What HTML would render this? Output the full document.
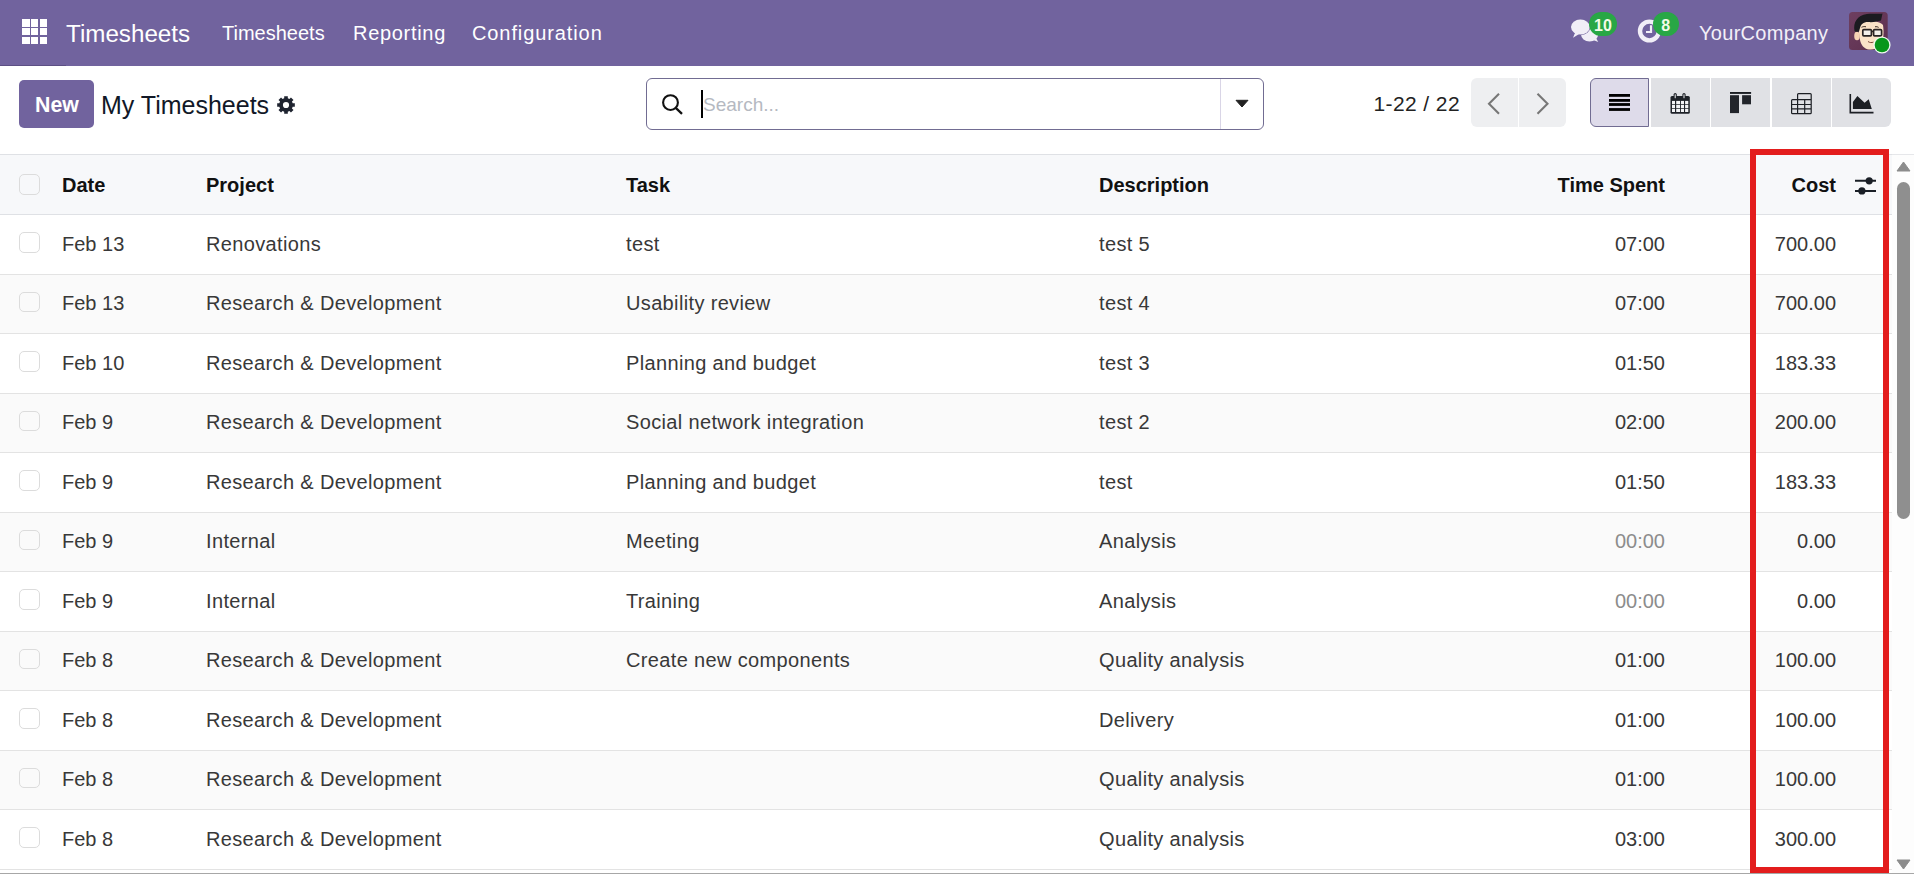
<!DOCTYPE html>
<html><head><meta charset="utf-8">
<style>
*{box-sizing:border-box;margin:0;padding:0}
html,body{width:1914px;height:874px;overflow:hidden;background:#fff;font-family:"Liberation Sans",sans-serif;color:#333}
.abs{position:absolute}
svg{position:absolute;overflow:visible}
.nav{position:absolute;left:0;top:0;width:1914px;height:66px;background:#71639e}
.nav .t{position:absolute;color:#fff;white-space:nowrap;line-height:1}
.txt{position:absolute;white-space:nowrap;line-height:1}
.grid span{position:absolute;width:7.5px;height:7.5px;background:#fff}
.badge{position:absolute;background:#28a745;color:#f4fbe8;font-weight:700;font-size:16px;line-height:27.5px;text-align:center;border-radius:12px;height:24px}
.thead{position:absolute;z-index:2;left:0;width:1892px;height:61px;background:#f7f8fa;border-top:1px solid #dfe1e5;border-bottom:1px solid #dfe1e5}
.row{position:absolute;left:0;width:1892px;height:59.5px;border-bottom:1px solid #e3e3e3}
.row.odd{background:#fff}
.row.even{background:#fafafa}
.cb{position:absolute;left:19px;width:21px;height:20.6px;border:1px solid #dcdcdc;border-radius:5px;background:transparent}
.cell{position:absolute;font-size:20px;line-height:1;white-space:nowrap;color:#383838}
.cell.muted{color:#8c8c8c}
.hcell{position:absolute;font-size:20px;line-height:1;white-space:nowrap;color:#111;font-weight:700}
.vbtn{position:absolute;top:78px;height:48.5px;background:#e0e1e5}
.pbtn{position:absolute;top:78px;height:48.5px;background:#eeeff1}

.hz{z-index:3}
.ls{letter-spacing:.35px}

</style></head>
<body>
<div class="nav">
  <div class="abs" style="left:0;top:64.5px;width:66px;height:1.5px;background:#5c4f84"></div>
  <div class="grid abs" style="left:22px;top:19px;width:25px;height:25px">
    <span style="left:0;top:0"></span><span style="left:8.8px;top:0"></span><span style="left:17.6px;top:0"></span>
    <span style="left:0;top:8.8px"></span><span style="left:8.8px;top:8.8px"></span><span style="left:17.6px;top:8.8px"></span>
    <span style="left:0;top:17.6px"></span><span style="left:8.8px;top:17.6px"></span><span style="left:17.6px;top:17.6px"></span>
  </div>
  <div class="t" style="left:66px;top:22.3px;font-size:24.2px">Timesheets</div>
  <div class="t" style="left:222px;top:23px;font-size:20px">Timesheets</div>
  <div class="t" style="left:353px;top:23px;font-size:20px;letter-spacing:.7px">Reporting</div>
  <div class="t" style="left:472px;top:23px;font-size:20px;letter-spacing:.9px">Configuration</div>
  <!-- chat icon -->
  <svg style="left:1570px;top:18px" width="30" height="26" viewBox="0 0 30 26">
    <ellipse cx="19.600" cy="16.300" rx="8.600" ry="7.300" fill="#f1eef7"/>
    <path d="M22 21.500 L28.200 24 L25 18z" fill="#f1eef7"/>
    <ellipse cx="10.400" cy="9" rx="9.400" ry="7.400" fill="#f1eef7" stroke="#71639e" stroke-width="1.300"/>
    <path d="M5.200 14.500 L3 19.800 L9.500 15.800z" fill="#f1eef7"/>
    <ellipse cx="10.400" cy="9" rx="9.400" ry="7.400" fill="#f1eef7"/>
  </svg>
  <div class="badge" style="left:1589px;top:12px;width:28px">10</div>
  <!-- clock icon -->
  <svg style="left:1636px;top:18px" width="26" height="26" viewBox="0 0 26 26">
    <circle cx="13.4" cy="13" r="9.4" fill="none" stroke="#f1eef7" stroke-width="4.4"/>
    <path d="M15 7.3v6.7h-5" fill="none" stroke="#f1eef7" stroke-width="2.2"/>
  </svg>
  <div class="badge" style="left:1653px;top:12px;width:25.5px">8</div>
  <div class="t" style="left:1699px;top:23px;font-size:20px;letter-spacing:.3px;color:#f3f0f8">YourCompany</div>
  <!-- avatar -->
  <svg style="left:1849px;top:12px" width="39" height="39" viewBox="0 0 39 39">
    <defs><clipPath id="av"><rect x="0" y="0" width="38.7" height="38" rx="3.5"/></clipPath>
    <linearGradient id="avg" x1="0" y1="0" x2="1" y2="1"><stop offset="0" stop-color="#6e3f60"/><stop offset="1" stop-color="#5c2f4e"/></linearGradient></defs>
    <g clip-path="url(#av)">
      <rect x="0" y="0" width="39" height="39" fill="url(#avg)"/>
      <path d="M10 12 C12 8 30 8 34 13 C35 20 35 28 31 33 C28 37 24 38 20 37.5 C15 37 12 33 11 28 C10 23 9.500 17 10 12z" fill="#fbe3c8"/>
      <ellipse cx="8" cy="24" rx="2.800" ry="4.300" fill="#f6d2b4"/>
      <path d="M5.500 19 C4 11 8 3 18 2 C25 1.500 31 2 33.500 1.500 C33 4 32.500 6 32 8.500 C29 9.500 24 10.500 19 10 C14 10 12 12.500 11 16 L10 19.500 C8 20 6.500 20 5.500 19z" fill="#1b1b20"/>
      <path d="M12.500 15.300 c1.500-.8 3-.9 4.500-.5M26 14.800c1.300-.3 2.600 0 3.600.6" stroke="#3a2a22" stroke-width="1" fill="none"/>
      <rect x="13.800" y="17.600" width="8.600" height="6.200" rx="1" fill="#f4f0ea" stroke="#2a2424" stroke-width="1.700"/>
      <rect x="24.600" y="17.600" width="8" height="6.200" rx="1" fill="#f4f0ea" stroke="#2a2424" stroke-width="1.700"/>
      <path d="M22.400 19.500h2.200" stroke="#2a2424" stroke-width="1.500"/>
      <path d="M19 29.500c1.800 1.300 3.600 1.300 5.500.6" stroke="#7a4a3a" stroke-width="1" fill="none"/>
    </g>
    <circle cx="33" cy="33" r="8.600" fill="#f0fbf0"/>
    <circle cx="33" cy="33" r="7.300" fill="#07961a"/>
  </svg>
</div>

<div class="abs" style="left:19px;top:80px;width:75px;height:48px;background:#71639e;border-radius:5px"></div>
<div class="txt" style="left:35px;top:94.5px;font-size:21.3px;font-weight:700;color:#fff">New</div>
<div class="txt" style="left:101px;top:93px;font-size:25px;color:#111827">My Timesheets</div>
<!-- gear -->
<svg style="left:277px;top:96.4px" width="18" height="18" viewBox="0 0 18 18">
  <path fill="#1f2430" fill-rule="evenodd" d="M7.20 2.34 L7.20 0.18 L10.80 0.18 L10.80 2.34 L12.44 3.02 L13.96 1.49 L16.51 4.04 L14.98 5.56 L15.66 7.20 L17.82 7.20 L17.82 10.80 L15.66 10.80 L14.98 12.44 L16.51 13.96 L13.96 16.51 L12.44 14.98 L10.80 15.66 L10.80 17.82 L7.20 17.82 L7.20 15.66 L5.56 14.98 L4.04 16.51 L1.49 13.96 L3.02 12.44 L2.34 10.80 L0.18 10.80 L0.18 7.20 L2.34 7.20 L3.02 5.56 L1.49 4.04 L4.04 1.49 L5.56 3.02Z M9 5.9 a3.1 3.1 0 1 0 0 6.2 a3.1 3.1 0 1 0 0-6.2z"/>
</svg>
<!-- search -->
<div class="abs" style="left:646px;top:78px;width:618px;height:52px;border:1.5px solid #716c92;border-radius:6px;background:#fff"></div>
<div class="abs" style="left:1220px;top:79px;width:1px;height:50px;background:#d9d5e6"></div>
<svg style="left:661px;top:93px" width="24" height="24" viewBox="0 0 24 24">
  <circle cx="9.5" cy="9.6" r="7.4" fill="none" stroke="#111" stroke-width="2.1"/>
  <path d="M15 15.2l6 5.6" stroke="#111" stroke-width="2.3"/>
</svg>
<div class="abs" style="left:701px;top:90px;width:2px;height:28px;background:#000"></div>
<div class="txt" style="left:703px;top:95px;font-size:19px;color:#b5b9c1">Search...</div>
<svg style="left:1235px;top:99px" width="14" height="9" viewBox="0 0 14 9">
  <path d="M1 1.300h12L7 8z" fill="#222" stroke="#222" stroke-width="1" stroke-linejoin="round"/>
</svg>
<!-- pager -->
<div class="txt" style="left:1373.5px;top:93px;font-size:21px;letter-spacing:.4px;color:#222">1-22 / 22</div>
<div class="pbtn" style="left:1471px;width:47px;border-radius:6px 0 0 6px"></div>
<div class="pbtn" style="left:1519px;width:46.5px;border-radius:0 6px 6px 0"></div>
<svg style="left:1486px;top:92px" width="16" height="24" viewBox="0 0 16 24">
  <path d="M13 1.800L3 11.800l10 10" fill="none" stroke="#777" stroke-width="2.1"/>
</svg>
<svg style="left:1535px;top:92px" width="16" height="24" viewBox="0 0 16 24">
  <path d="M2.500 1.800l10 10-10 10" fill="none" stroke="#777" stroke-width="2.1"/>
</svg>
<!-- view switcher -->
<div class="vbtn" style="left:1590px;width:59px;background:#dedbea;border:1.3px solid #716c92;border-radius:6px 0 0 6px"></div>
<div class="vbtn" style="left:1651px;width:59px"></div>
<div class="vbtn" style="left:1711px;width:59px"></div>
<div class="vbtn" style="left:1772px;width:59px"></div>
<div class="vbtn" style="left:1832px;width:59px;border-radius:0 6px 6px 0"></div>
<!-- list icon -->
<svg style="left:1609px;top:94px" width="21" height="17" viewBox="0 0 21 17">
  <rect x="0" y="0" width="21" height="2.8" fill="#000"/>
  <rect x="0" y="5" width="21" height="2.8" fill="#000"/>
  <rect x="0" y="9.1" width="21" height="2.8" fill="#000"/>
  <rect x="0" y="14.1" width="21" height="2.8" fill="#000"/>
</svg>
<!-- calendar icon -->
<svg style="left:1670px;top:93px" width="20" height="21" viewBox="0 0 20 21">
  <rect x="0.5" y="3" width="19.300" height="17.700" rx="1.500" fill="#1e2228"/>
  <rect x="2" y="7.900" width="3" height="3.200" fill="#f3f4f6"/><rect x="6.200" y="7.900" width="3.900" height="3.200" fill="#f3f4f6"/><rect x="11" y="7.900" width="3" height="3.200" fill="#f3f4f6"/><rect x="15.100" y="7.900" width="3.200" height="3.200" fill="#f3f4f6"/>
  <rect x="2" y="11.800" width="3" height="3.300" fill="#f3f4f6"/><rect x="6.200" y="11.800" width="3.900" height="3.300" fill="#f3f4f6"/><rect x="11" y="11.800" width="3" height="3.300" fill="#f3f4f6"/><rect x="15.100" y="11.800" width="3.200" height="3.300" fill="#f3f4f6"/>
  <rect x="2" y="15.800" width="3" height="3.200" fill="#f3f4f6"/><rect x="6.200" y="15.800" width="3.900" height="3.200" fill="#f3f4f6"/><rect x="11" y="15.800" width="3" height="3.200" fill="#f3f4f6"/><rect x="15.100" y="15.800" width="3.200" height="3.200" fill="#f3f4f6"/>
  <rect x="3.600" y="0" width="3.200" height="6" rx="1.600" fill="#1e2228"/>
  <rect x="12.400" y="0" width="3.200" height="6" rx="1.600" fill="#1e2228"/>
  <rect x="4.700" y="1.200" width="1" height="4" rx=".5" fill="#f3f4f6"/>
  <rect x="13.500" y="1.200" width="1" height="4" rx=".5" fill="#f3f4f6"/>
</svg>
<!-- kanban icon -->
<svg style="left:1730px;top:92px" width="22" height="22" viewBox="0 0 22 22">
  <rect x="0" y="0" width="21.100" height="1.900" fill="#1a1d22"/>
  <rect x="0" y="3.200" width="9" height="17.900" fill="#22252b"/>
  <rect x="12.100" y="3.200" width="8.900" height="9.100" fill="#22252b"/>
</svg>
<!-- pivot icon -->
<svg style="left:1791px;top:93px" width="21" height="21" viewBox="0 0 21 21">
  <path d="M6.600 6.600V1.500q0-.9.9-.9h11.800q.9 0 .9.9v18.200q0 .9-.9.9H1.500q-.9 0-.9-.9V7.500q0-.9.9-.9zM.6 11.500h19.600M.6 15.800h19.600M6.600 6.600V20.600M13.700 6.600V20.600M6.600 6.600H20.200" fill="none" stroke="#1c1f24" stroke-width="1.200"/>
</svg>
<!-- graph icon -->
<svg style="left:1849px;top:93px" width="25" height="21" viewBox="0 0 25 21">
  <path d="M1.300 1v18.600H24.500" fill="none" stroke="#1c1f24" stroke-width="1.600"/>
  <path d="M3.900 15.900V9.100L8.400 3.100l7.200 6.700 4.100-3.500 3.100 9.600z" fill="#1c1f24"/>
</svg>

<div class="thead" style="top:154px"></div>
<div class="cb hz" style="top:174px"></div>
<div class="hcell hz" style="left:62px;top:175.2px">Date</div>
<div class="hcell hz" style="left:206px;top:175.2px">Project</div>
<div class="hcell hz" style="left:626px;top:175.2px">Task</div>
<div class="hcell hz" style="left:1099px;top:175.2px">Description</div>
<div class="hcell hz r" style="right:249px;top:175.2px">Time Spent</div>
<div class="hcell hz r" style="right:78px;top:175.2px">Cost</div>
<div class="row odd" style="top:215.00px"></div>
<div class="cb" style="top:232.20px"></div>
<div class="cell" style="left:62px;top:233.50px">Feb 13</div>
<div class="cell ls" style="left:206px;top:233.50px">Renovations</div>
<div class="cell ls" style="left:626px;top:233.50px">test</div>
<div class="cell ls" style="left:1099px;top:233.50px">test 5</div>
<div class="cell r" style="right:249px;top:233.50px">07:00</div>
<div class="cell r" style="right:78px;top:233.50px">700.00</div>
<div class="row even" style="top:274.50px"></div>
<div class="cb" style="top:291.70px"></div>
<div class="cell" style="left:62px;top:293.00px">Feb 13</div>
<div class="cell ls" style="left:206px;top:293.00px">Research &amp; Development</div>
<div class="cell ls" style="left:626px;top:293.00px">Usability review</div>
<div class="cell ls" style="left:1099px;top:293.00px">test 4</div>
<div class="cell r" style="right:249px;top:293.00px">07:00</div>
<div class="cell r" style="right:78px;top:293.00px">700.00</div>
<div class="row odd" style="top:334.00px"></div>
<div class="cb" style="top:351.20px"></div>
<div class="cell" style="left:62px;top:352.50px">Feb 10</div>
<div class="cell ls" style="left:206px;top:352.50px">Research &amp; Development</div>
<div class="cell ls" style="left:626px;top:352.50px">Planning and budget</div>
<div class="cell ls" style="left:1099px;top:352.50px">test 3</div>
<div class="cell r" style="right:249px;top:352.50px">01:50</div>
<div class="cell r" style="right:78px;top:352.50px">183.33</div>
<div class="row even" style="top:393.50px"></div>
<div class="cb" style="top:410.70px"></div>
<div class="cell" style="left:62px;top:412.00px">Feb 9</div>
<div class="cell ls" style="left:206px;top:412.00px">Research &amp; Development</div>
<div class="cell ls" style="left:626px;top:412.00px">Social network integration</div>
<div class="cell ls" style="left:1099px;top:412.00px">test 2</div>
<div class="cell r" style="right:249px;top:412.00px">02:00</div>
<div class="cell r" style="right:78px;top:412.00px">200.00</div>
<div class="row odd" style="top:453.00px"></div>
<div class="cb" style="top:470.20px"></div>
<div class="cell" style="left:62px;top:471.50px">Feb 9</div>
<div class="cell ls" style="left:206px;top:471.50px">Research &amp; Development</div>
<div class="cell ls" style="left:626px;top:471.50px">Planning and budget</div>
<div class="cell ls" style="left:1099px;top:471.50px">test</div>
<div class="cell r" style="right:249px;top:471.50px">01:50</div>
<div class="cell r" style="right:78px;top:471.50px">183.33</div>
<div class="row even" style="top:512.50px"></div>
<div class="cb" style="top:529.70px"></div>
<div class="cell" style="left:62px;top:531.00px">Feb 9</div>
<div class="cell ls" style="left:206px;top:531.00px">Internal</div>
<div class="cell ls" style="left:626px;top:531.00px">Meeting</div>
<div class="cell ls" style="left:1099px;top:531.00px">Analysis</div>
<div class="cell r muted" style="right:249px;top:531.00px">00:00</div>
<div class="cell r" style="right:78px;top:531.00px">0.00</div>
<div class="row odd" style="top:572.00px"></div>
<div class="cb" style="top:589.20px"></div>
<div class="cell" style="left:62px;top:590.50px">Feb 9</div>
<div class="cell ls" style="left:206px;top:590.50px">Internal</div>
<div class="cell ls" style="left:626px;top:590.50px">Training</div>
<div class="cell ls" style="left:1099px;top:590.50px">Analysis</div>
<div class="cell r muted" style="right:249px;top:590.50px">00:00</div>
<div class="cell r" style="right:78px;top:590.50px">0.00</div>
<div class="row even" style="top:631.50px"></div>
<div class="cb" style="top:648.70px"></div>
<div class="cell" style="left:62px;top:650.00px">Feb 8</div>
<div class="cell ls" style="left:206px;top:650.00px">Research &amp; Development</div>
<div class="cell ls" style="left:626px;top:650.00px">Create new components</div>
<div class="cell ls" style="left:1099px;top:650.00px">Quality analysis</div>
<div class="cell r" style="right:249px;top:650.00px">01:00</div>
<div class="cell r" style="right:78px;top:650.00px">100.00</div>
<div class="row odd" style="top:691.00px"></div>
<div class="cb" style="top:708.20px"></div>
<div class="cell" style="left:62px;top:709.50px">Feb 8</div>
<div class="cell ls" style="left:206px;top:709.50px">Research &amp; Development</div>
<div class="cell ls" style="left:1099px;top:709.50px">Delivery</div>
<div class="cell r" style="right:249px;top:709.50px">01:00</div>
<div class="cell r" style="right:78px;top:709.50px">100.00</div>
<div class="row even" style="top:750.50px"></div>
<div class="cb" style="top:767.70px"></div>
<div class="cell" style="left:62px;top:769.00px">Feb 8</div>
<div class="cell ls" style="left:206px;top:769.00px">Research &amp; Development</div>
<div class="cell ls" style="left:1099px;top:769.00px">Quality analysis</div>
<div class="cell r" style="right:249px;top:769.00px">01:00</div>
<div class="cell r" style="right:78px;top:769.00px">100.00</div>
<div class="row odd" style="top:810.00px"></div>
<div class="cb" style="top:827.20px"></div>
<div class="cell" style="left:62px;top:828.50px">Feb 8</div>
<div class="cell ls" style="left:206px;top:828.50px">Research &amp; Development</div>
<div class="cell ls" style="left:1099px;top:828.50px">Quality analysis</div>
<div class="cell r" style="right:249px;top:828.50px">03:00</div>
<div class="cell r" style="right:78px;top:828.50px">300.00</div>
<!-- filter sliders icon in header -->
<svg style="left:1855px;top:176px;z-index:4" width="22" height="20" viewBox="0 0 22 20">
  <path d="M0 4.800h21M0 14.900h21" stroke="#1a1f26" stroke-width="2"/>
  <circle cx="14.200" cy="4.800" r="3.600" fill="#1a1f26"/>
  <circle cx="6.900" cy="14.900" r="3.600" fill="#1a1f26"/>
</svg>
<!-- scrollbar -->
<div class="abs" style="z-index:4;left:1892px;top:155px;width:22px;height:718px;background:#fdfdfd"></div><div class="abs" style="z-index:4;left:1892px;top:154px;width:22px;height:1px;background:#e6e7ea"></div>
<svg style="z-index:5;left:1896px;top:161px" width="15" height="11" viewBox="0 0 15 11"><path d="M7.500 1L14 10H1z" fill="#8c8c8c" stroke="#8c8c8c" stroke-linejoin="round"/></svg>
<div class="abs" style="z-index:5;left:1897px;top:182px;width:13px;height:337px;background:#8f8f8f;border-radius:6.5px"></div>
<svg style="z-index:5;left:1896px;top:859px" width="15" height="11" viewBox="0 0 15 11"><path d="M1 1h13L7.500 10z" fill="#8c8c8c" stroke="#8c8c8c" stroke-linejoin="round"/></svg>
<div class="abs" style="left:0;top:873px;width:1914px;height:1px;background:#a7a7a7"></div>
<!-- red highlight box -->
<div class="abs" style="z-index:6;left:1750px;top:149px;width:139px;height:724px;border:6px solid #e31d1d"></div>

</body></html>
